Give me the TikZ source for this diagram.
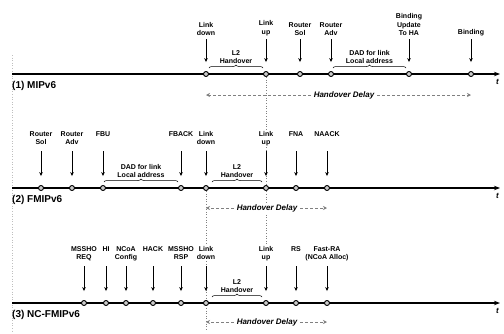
\documentclass[tikz,border=0pt]{standalone}
\usepackage{fontspec}
\setmainfont{Liberation Sans}
\usetikzlibrary{arrows.meta,decorations.pathreplacing,backgrounds}

\tikzset{
  tl/.style={line width=1.3pt, -{Stealth[length=6pt,width=4.5pt]}},
  ev/.style={circle, draw, line width=0.9pt, fill=gray!40, inner sep=0pt, minimum size=5pt},
  lbl/.style={font=\fontsize{7}{8.5}\selectfont\bfseries, align=center, inner sep=0pt, fill=white},
  msg/.style={line width=0.6pt, -{Stealth[length=4pt,width=3.5pt]}, shorten >=9pt},
  brc/.style={decorate, decoration={brace, amplitude=3pt, raise=6pt}, line width=0.5pt},
  delay/.style={gray, densely dashed, line width=0.6pt, -{Stealth[length=4pt,width=4pt]}, shorten <=2pt},
  hd/.style={font=\fontsize{8}{9}\selectfont\bfseries\itshape, inner sep=1pt, fill=white},
  row/.style={font=\fontsize{10}{12}\selectfont\bfseries, anchor=west, inner sep=0pt},
  tlab/.style={font=\fontsize{8}{9}\selectfont\bfseries\itshape, anchor=north east, inner sep=1pt},
  guide/.style={gray, dotted, line width=0.6pt},
}

\begin{document}
\begin{tikzpicture}[x=1pt, y=-1pt]
  \useasboundingbox (0,0) rectangle (504,333);
  \coordinate (lab1) at (0,36);
  \coordinate (top1) at (0,39);
  \coordinate (lab2) at (0,131);
  \coordinate (top2) at (0,151);
  \coordinate (lab3) at (0,246);
  \coordinate (top3) at (0,266);
  \coordinate (bot) at (0,331);
  \coordinate (edgetop) at (12,55);
  \coordinate (edgebot) at (12,333);

  % (1) MIPv6
  \coordinate (s1) at (12,74);
  \coordinate (e1) at (500,74);
  \draw[tl] (s1) -- (e1);
  \node[tlab] (t1) at ([yshift=-4pt]e1) {t};
  \node[row] (r1) at (12,86) {(1) MIPv6};
  \node[ev] (ld1) at (206,74) {};
  \node[ev] (lu1) at (266,74) {};
  \node[ev] (rs1) at (300,74) {};
  \node[ev] (ra1) at (331,74) {};
  \node[ev] (bu1) at (409,74) {};
  \node[ev] (bd1) at (471,74) {};
  \node[lbl, anchor=south] (ld1l) at (ld1 |- lab1) {Link\\down};
  \node[lbl, anchor=south] (lu1l) at (lu1 |- lab1) {Link\\up};
  \node[lbl, anchor=south] (rs1l) at (rs1 |- lab1) {Router\\Sol};
  \node[lbl, anchor=south] (ra1l) at (ra1 |- lab1) {Router\\Adv};
  \node[lbl, anchor=south] (bu1l) at (bu1 |- lab1) {Binding\\Update\\To HA};
  \node[lbl, anchor=south] (bd1l) at (bd1 |- lab1) {Binding};
  \foreach \e in {ld1,lu1,rs1,ra1,bu1,bd1}
    \draw[msg] (\e |- top1) -- (\e);
  \draw[brc] ([xshift=3pt]ld1.center) -- node[lbl, above=10pt] {L2\\Handover} ([xshift=-3pt]lu1.center);
  \draw[brc] ([xshift=2pt]ra1.center) -- node[lbl, above=10pt] {DAD for link\\Local address} ([xshift=-3pt]bu1.center);
  \node[hd] (hd1) at (344,95) {Handover Delay};
  \draw[delay] (hd1.west) -- (ld1 |- hd1);
  \draw[delay] (hd1.east) -- (bd1 |- hd1);

  % (2) FMIPv6
  \coordinate (s2) at (12,188);
  \coordinate (e2) at (500,188);
  \draw[tl] (s2) -- (e2);
  \node[tlab] (t2) at ([yshift=-4pt]e2) {t};
  \node[row] (r2) at (12,200) {(2) FMIPv6};
  \node[ev] (rs2) at (41,188) {};
  \node[ev] (ra2) at (72,188) {};
  \node[ev] (fbu2) at (103,188) {};
  \node[ev] (fback2) at (181,188) {};
  \node[ev] (ld2) at (206,188) {};
  \node[ev] (lu2) at (266,188) {};
  \node[ev] (fna2) at (296,188) {};
  \node[ev] (naack2) at (327,188) {};
  \node[lbl, anchor=north] (rs2l) at (rs2 |- lab2) {Router\\Sol};
  \node[lbl, anchor=north] (ra2l) at (ra2 |- lab2) {Router\\Adv};
  \node[lbl, anchor=north] (fbu2l) at (fbu2 |- lab2) {FBU};
  \node[lbl, anchor=north] (fback2l) at (fback2 |- lab2) {FBACK};
  \node[lbl, anchor=north] (ld2l) at (ld2 |- lab2) {Link\\down};
  \node[lbl, anchor=north] (lu2l) at (lu2 |- lab2) {Link\\up};
  \node[lbl, anchor=north] (fna2l) at (fna2 |- lab2) {FNA};
  \node[lbl, anchor=north] (naack2l) at (naack2 |- lab2) {NAACK};
  \foreach \e in {rs2,ra2,fbu2,fback2,ld2,lu2,fna2,naack2}
    \draw[msg] (\e |- top2) -- (\e);
  \draw[brc] ([xshift=1pt]fbu2.center) -- node[lbl, above=10pt] {DAD for link\\Local address} ([xshift=-3pt]fback2.center);
  \draw[brc] ([xshift=6pt]ld2.center) -- node[lbl, above=10pt] {L2\\Handover} ([xshift=-4pt]lu2.center);
  \node[hd] (hd2) at (267,208) {Handover Delay};
  \draw[delay] (hd2.west) -- (ld2 |- hd2);
  \draw[delay] (hd2.east) -- (naack2 |- hd2);

  % (3) NC-FMIPv6
  \coordinate (s3) at (12,303);
  \coordinate (e3) at (500,303);
  \draw[tl] (s3) -- (e3);
  \node[tlab] (t3) at ([yshift=-4pt]e3) {t};
  \node[row] (r3) at (12,315) {(3) NC-FMIPv6};
  \node[ev] (mreq3) at (84,303) {};
  \node[ev] (hi3) at (106,303) {};
  \node[ev] (ncoa3) at (126,303) {};
  \node[ev] (hack3) at (153,303) {};
  \node[ev] (mrsp3) at (181,303) {};
  \node[ev] (ld3) at (206,303) {};
  \node[ev] (lu3) at (266,303) {};
  \node[ev] (rs3) at (296,303) {};
  \node[ev] (fra3) at (327,303) {};
  \node[lbl, anchor=north] (mreq3l) at (mreq3 |- lab3) {MSSHO\\REQ};
  \node[lbl, anchor=north] (hi3l) at (hi3 |- lab3) {HI};
  \node[lbl, anchor=north] (ncoa3l) at (ncoa3 |- lab3) {NCoA\\Config};
  \node[lbl, anchor=north] (hack3l) at (hack3 |- lab3) {HACK};
  \node[lbl, anchor=north] (mrsp3l) at (mrsp3 |- lab3) {MSSHO\\RSP};
  \node[lbl, anchor=north] (ld3l) at (ld3 |- lab3) {Link\\down};
  \node[lbl, anchor=north] (lu3l) at (lu3 |- lab3) {Link\\up};
  \node[lbl, anchor=north] (rs3l) at (rs3 |- lab3) {RS};
  \node[lbl, anchor=north] (fra3l) at (fra3 |- lab3) {Fast-RA\\(NCoA Alloc)};
  \foreach \e in {mreq3,hi3,ncoa3,hack3,mrsp3,ld3,lu3,rs3,fra3}
    \draw[msg] (\e |- top3) -- (\e);
  \draw[brc] ([xshift=6pt]ld3.center) -- node[lbl, above=10pt] {L2\\Handover} ([xshift=-4pt]lu3.center);
  \node[hd] (hd3) at (267,322) {Handover Delay};
  \draw[delay] (hd3.west) -- (ld3 |- hd3);
  \draw[delay] (hd3.east) -- (fra3 |- hd3);

  \begin{scope}[on background layer]
    \draw[guide] (lu1) -- (lu3l.north);
    \draw[guide] (ld2) -- (ld2 |- bot);
    \draw[guide, gray!50] (edgetop) -- (edgebot);
  \end{scope}
\end{tikzpicture}
\end{document}
